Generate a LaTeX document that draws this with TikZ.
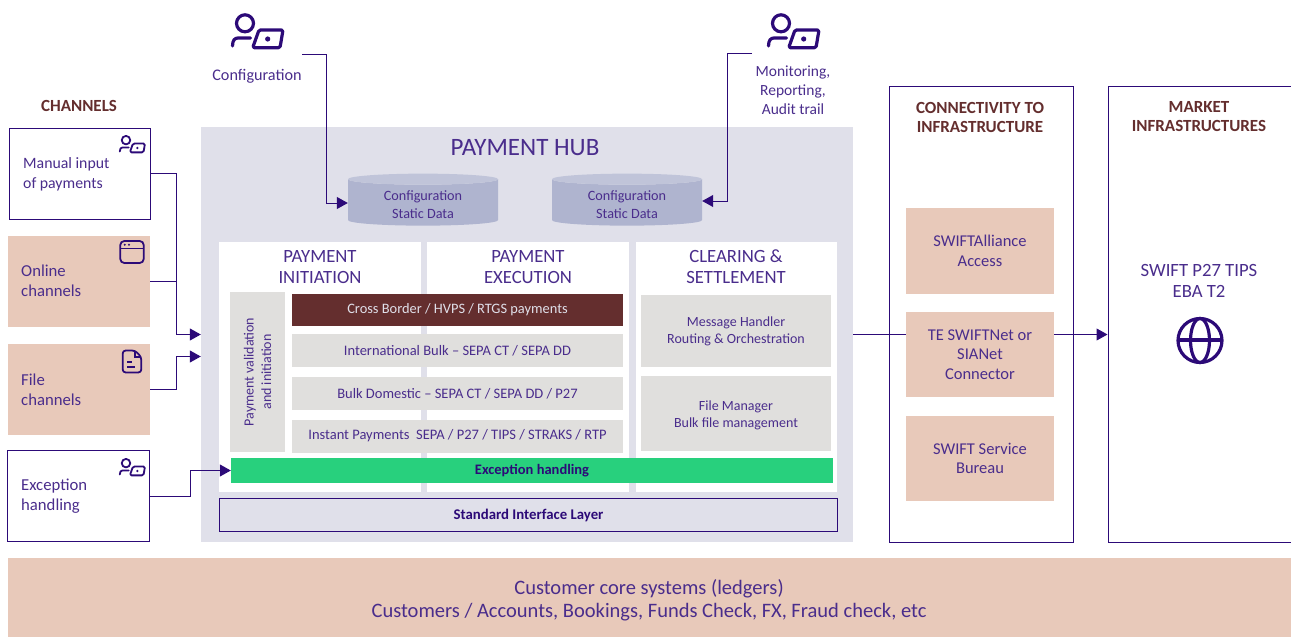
\documentclass[tikz,border=0pt]{standalone}
\usepackage{fontspec}
\setmainfont{Carlito}
\usetikzlibrary{arrows.meta, shapes.geometric}
\definecolor{ink}{HTML}{4A2D8C}
\definecolor{deep}{HTML}{2C0A78}
\definecolor{rust}{HTML}{642E2E}
\definecolor{peach}{HTML}{E8C9BA}
\definecolor{haze}{HTML}{E0E0EA}
\definecolor{stone}{HTML}{E0DFDD}
\definecolor{slate}{HTML}{AFB4CF}
\definecolor{slatetop}{HTML}{C0C4D9}
\definecolor{mint}{HTML}{28D07D}
\tikzset{>={Triangle[length=11pt,width=12pt]}}
\tikzset{
  flow/.style={->, draw=deep, line width=1pt},
  bare/.style={text=ink, align=center, font=\fontsize{15.5}{19}\selectfont},
  leftlabel/.style={text=ink, align=left, anchor=west, inner sep=0, font=\fontsize{16.7}{19.7}\selectfont},
  heading/.style={text=rust, align=center, font=\bfseries\fontsize{17}{19.5}\selectfont},
  column/.style={fill=white, minimum height=250, anchor=north west, inner sep=0},
  coltitle/.style={text=ink, align=center, font=\fontsize{18.7}{21}\selectfont},
  outline/.style={draw=deep, fill=white, line width=1pt, inner sep=0},
  peachbox/.style={fill=peach, inner sep=0, text=ink, align=center, font=\fontsize{16.5}{19.5}\selectfont},
  greybox/.style={fill=stone, inner sep=0, text=ink, align=center, font=\fontsize{14.5}{17}\selectfont},
  store/.style={cylinder, shape border rotate=90, aspect=0.2, cylinder uses custom fill,
    cylinder body fill=slate, cylinder end fill=slatetop, minimum width=150, minimum height=52,
    inner sep=0},
  storetxt/.style={text=ink, align=center, font=\fontsize{14.2}{18}\selectfont},
  userlaptop/.pic={
    \draw[deep, line cap=round, line join=round] (-13,-7.7) circle (8.5)
      (-25.5,15) .. controls (-25.5,9) and (-23,7) .. (-20,7) -- (-7.5,7);
    \draw[deep, line join=round, rounded corners=1.5] (1,-1) -- (25,-1) -- (22,16.7) -- (-5.3,16.7) -- cycle;
    \fill[deep] (9.7,8) circle (2.6);
  },
  windowicon/.pic={
    \draw[deep, rounded corners=4] (-11.7,-11) rectangle (11.7,11);
    \draw[deep] (-11.7,-3.5) -- (11.7,-3.5);
    \foreach \x in {-7.3,-3} \fill[deep] (\x,-7.3) circle (1.1);
  },
  docicon/.pic={
    \draw[deep, rounded corners=3, line join=round] (-9.3,-11) -- (3,-11) -- (9.3,-4.5) -- (9.3,11) -- (-9.3,11) -- cycle;
    \draw[deep] (3,-11) -- (3,-4.5) -- (9.3,-4.5);
    \draw[deep] (-5,0.5) -- (-0.5,0.5) (-5,5.5) -- (3,5.5);
  },
  globeicon/.pic={
    \draw[deep] (0,0) circle (22);
    \draw[deep] (0,0) ellipse (9.5 and 22);
    \draw[deep] (-22,-0.5) -- (22,-0.5);
  }
}

\begin{document}
\begin{tikzpicture}[x=1pt, y=-1pt]
\useasboundingbox (0,0) rectangle (1291,637);

% channels
\node[heading] (chantitle) at (79,106) {CHANNELS};
\node[outline, minimum width=141, minimum height=91] (manual) at (80,173.5) {};
\node[peachbox, minimum width=142, minimum height=91] (online) at (79,281.5) {};
\node[peachbox, minimum width=142, minimum height=91] (filech) at (79,389.5) {};
\node[outline, minimum width=142, minimum height=91] (except) at (78.5,496) {};
\node[leftlabel, font=\fontsize{15.8}{20}\selectfont] (manualtxt) at (23,174) {Manual input\\of payments};
\node[leftlabel] (onlinetxt) at (21,281) {Online\\channels};
\node[leftlabel] (filetxt) at (21,389.5) {File\\channels};
\node[leftlabel] (excepttxt) at (21,496.5) {Exception\\handling};
\pic[scale=0.5, line width=1.8pt] at (132.5,144) {userlaptop};
\pic[line width=1.8pt] at (132,252) {windowicon};
\pic[line width=1.8pt] at (132,361.5) {docicon};
\pic[scale=0.5, line width=1.8pt] at (132.5,467) {userlaptop};

% hub
\node[fill=haze, minimum width=652, minimum height=415, inner sep=0] (hub) at (527,334.5) {};
\node[text=ink, font=\fontsize{25}{28}\selectfont] (hubtitle) at (525,148) {PAYMENT HUB};
\node[store] (dbone) at (423,202.5) {\phantom{Configuration}};
\node[store] (dbtwo) at (627,202.5) {\phantom{Configuration}};
\node[storetxt] (dbonetxt) at (423,204.5) {Configuration\\Static Data};
\node[storetxt] (dbtwotxt) at (627,204.5) {Configuration\\Static Data};

\node[column, minimum width=202] (colinit) at (219,242) {};
\node[column, minimum width=202] (colexec) at (427,242) {};
\node[column, minimum width=201] (colclear) at (636,242) {};
\node[coltitle] (inittitle) at (320,267) {PAYMENT\\INITIATION};
\node[coltitle] (exectitle) at (528,267) {PAYMENT\\EXECUTION};
\node[coltitle] (cleartitle) at (736,266.5) {CLEARING \&\\SETTLEMENT};

\node[greybox, minimum width=55, minimum height=160] (valid) at (257.5,372) {};
\node[text=ink, rotate=90, align=center, font=\fontsize{14}{17.5}\selectfont] (validtxt) at (257.5,372) {Payment validation\\and initiation};
\node[fill=rust, minimum width=331, minimum height=32, inner sep=0, text=haze, font=\fontsize{14.4}{17}\selectfont] (cross) at (457.5,310) {Cross Border / HVPS / RTGS payments};
\node[greybox, minimum width=331, minimum height=33] (intl) at (457.5,350.5) {International Bulk -- SEPA CT / SEPA DD};
\node[greybox, minimum width=331, minimum height=33] (bulk) at (457.5,393.5) {Bulk Domestic -- SEPA CT / SEPA DD / P27};
\node[greybox, minimum width=331, minimum height=33] (instant) at (457.5,436) {Instant Payments\ \ SEPA / P27 / TIPS / STRAKS / RTP};
\node[greybox, minimum width=190, minimum height=72, font=\fontsize{14}{17}\selectfont] (msg) at (736,331) {Message Handler\\Routing \& Orchestration};
\node[greybox, minimum width=190, minimum height=75] (fileman) at (736,413.5) {};
\node[text=ink, align=center, font=\fontsize{14}{17}\selectfont] (filemantxt) at (736,415.5) {File Manager\\Bulk file management};
\node[fill=mint, minimum width=602, minimum height=25, inner sep=0, text=deep, font=\bfseries\fontsize{14.5}{17}\selectfont] (exhand) at (532,470.5) {Exception handling};
\node[draw=deep, line width=1pt, minimum width=618, minimum height=33, inner sep=0, text=deep, font=\bfseries\fontsize{14.8}{17}\selectfont] (stdlayer) at (528.5,515) {Standard Interface Layer};

% top actors
\pic[line width=3.2pt] at (258,31) {userlaptop};
\pic[line width=3.2pt] at (794,31) {userlaptop};
\node[bare, font=\fontsize{16.2}{19}\selectfont] (cfgtxt) at (257,76) {Configuration};
\node[bare] (montxt) at (793,90) {Monitoring,\\Reporting,\\Audit trail};
\coordinate (cfgout) at (302,54);
\coordinate (monout) at (752,53);

% connectivity
\node[outline, minimum width=184, minimum height=456] (conn) at (981,314) {};
\node[heading] (conntitle) at (980,117.5) {CONNECTIVITY TO\\INFRASTRUCTURE};
\node[peachbox, minimum width=148, minimum height=86] (alliance) at (980,251) {SWIFTAlliance\\Access};
\node[peachbox, minimum width=148, minimum height=85] (tenet) at (980,354.5) {TE SWIFTNet or\\SIANet\\Connector};
\node[peachbox, minimum width=148, minimum height=85] (bureau) at (980,458.5) {SWIFT Service\\Bureau};

% market
\node[outline, minimum width=200, minimum height=456] (market) at (1208,314) {};
\node[heading] (markettitle) at (1199,116.5) {MARKET\\INFRASTRUCTURES};
\node[text=ink, align=center, font=\fontsize{18.7}{21}\selectfont] (markettxt) at (1199,280.5) {SWIFT P27 TIPS\\EBA T2};
\pic[line width=3.2pt] at (1200,340.5) {globeicon};

% ledgers
\node[fill=peach, minimum width=1283, minimum height=79, inner sep=0] (core) at (649.5,597.5) {};
\node[text=ink, align=center, font=\fontsize{20.5}{23}\selectfont] (coretxt) at (649,600.5) {Customer core systems (ledgers)\\Customers / Accounts, Bookings, Funds Check, FX, Fraud check, etc};

% connectors
\draw[flow] (manual.east) -- ++(25.5,0) |- (hub.west);
\draw[flow, -] (online.east) -- ++(26,0);
\draw[flow] (filech.east) -- ++(26,0) |- ([yshift=-22pt]hub.west);
\draw[flow] (except.east) -- ++(40.5,0) |- (exhand.west);
\draw[flow] (cfgout) -- ++(24,0) |- ([yshift=-0.5pt]dbone.west);
\draw[flow] (monout) -- ++(-25,0) |- ([yshift=1.5pt]dbtwo.east);
\draw[flow, -] (hub.east) -- (tenet.west |- hub.east);
\draw[flow] (tenet.east |- hub.east) -- (market.west |- hub.east);
\end{tikzpicture}
\end{document}
